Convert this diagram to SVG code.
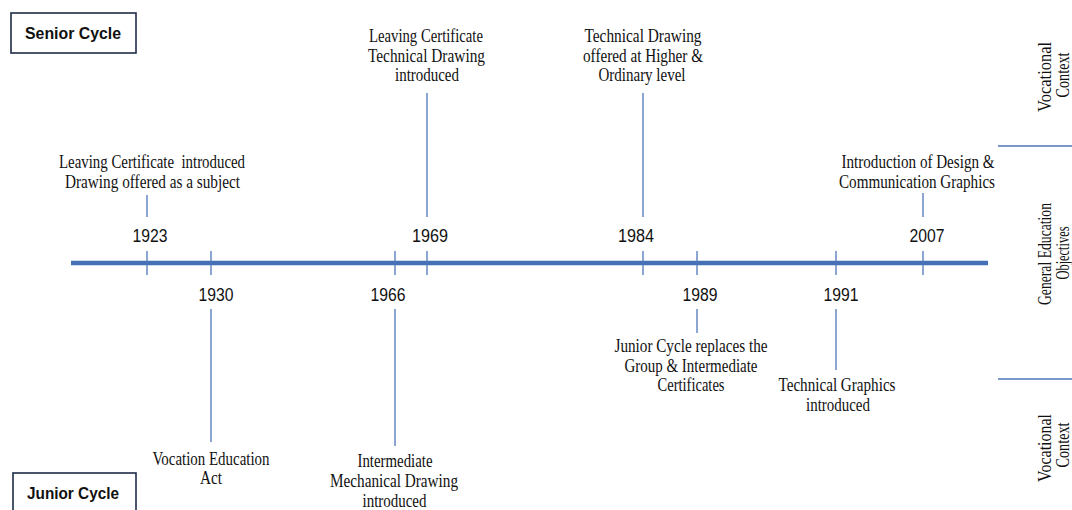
<svg xmlns="http://www.w3.org/2000/svg" width="1072" height="510" viewBox="0 0 1072 510">
<style>
.s{font-family:"Liberation Serif","Times New Roman",serif;font-size:18px;fill:#111;text-anchor:middle}
.y{font-family:"Liberation Sans",Arial,sans-serif;font-size:18px;fill:#111;text-anchor:middle}
.b{font-family:"Liberation Sans",Arial,sans-serif;font-size:16.5px;font-weight:bold;fill:#111;text-anchor:middle}
.c{stroke:#4f76b8;stroke-width:1.3;fill:none}
.box{fill:#fff;stroke:#1f2b47;stroke-width:1.6}
</style>
<rect width="1072" height="510" fill="#fff"/>
<g id="connectors">
<line x1="71" y1="263" x2="988" y2="263" stroke="#4670b5" stroke-width="4.5"/>
<g class="c">
<line x1="147" y1="251" x2="147" y2="275"/>
<line x1="211" y1="251" x2="211" y2="275"/>
<line x1="395" y1="251" x2="395" y2="275"/>
<line x1="427" y1="251" x2="427" y2="275"/>
<line x1="643" y1="251" x2="643" y2="275"/>
<line x1="697" y1="251" x2="697" y2="275"/>
<line x1="836" y1="251" x2="836" y2="275"/>
<line x1="923" y1="251" x2="923" y2="275"/>
<line x1="147" y1="195" x2="147" y2="217"/>
<line x1="427" y1="93" x2="427" y2="217"/>
<line x1="643" y1="93" x2="643" y2="217"/>
<line x1="923" y1="193" x2="923" y2="217"/>
<line x1="211" y1="309" x2="211" y2="442"/>
<line x1="395" y1="309" x2="395" y2="446"/>
<line x1="697" y1="309" x2="697" y2="333"/>
<line x1="836" y1="309" x2="836" y2="370"/>
<line x1="998" y1="146" x2="1072" y2="146"/>
<line x1="998" y1="379" x2="1072" y2="379"/>
</g>
</g>
<g id="senior-cycle">
<rect class="box" x="11" y="13" width="125" height="40"/>
<text class="b" x="73" y="39" textLength="96" lengthAdjust="spacingAndGlyphs">Senior Cycle</text>
</g>
<g id="junior-cycle">
<rect class="box" x="13" y="473" width="123" height="45"/>
<text class="b" x="73" y="499" textLength="92" lengthAdjust="spacingAndGlyphs">Junior Cycle</text>
</g>
<g id="e1923">
<text class="y" x="150" y="242" textLength="35" lengthAdjust="spacingAndGlyphs">1923</text>
<text class="s" x="152" y="168" textLength="186" lengthAdjust="spacingAndGlyphs" xml:space="preserve">Leaving Certificate  introduced</text>
<text class="s" x="152.5" y="188" textLength="175" lengthAdjust="spacingAndGlyphs">Drawing offered as a subject</text>
</g>
<g id="e1930">
<text class="y" x="216" y="301" textLength="35" lengthAdjust="spacingAndGlyphs">1930</text>
<text class="s" x="211" y="465" textLength="117" lengthAdjust="spacingAndGlyphs">Vocation Education</text>
<text class="s" x="211" y="484" textLength="22" lengthAdjust="spacingAndGlyphs">Act</text>
</g>
<g id="e1966">
<text class="y" x="388" y="301" textLength="35" lengthAdjust="spacingAndGlyphs">1966</text>
<text class="s" x="395" y="467" textLength="75" lengthAdjust="spacingAndGlyphs">Intermediate</text>
<text class="s" x="394" y="487" textLength="128" lengthAdjust="spacingAndGlyphs">Mechanical Drawing</text>
<text class="s" x="394.5" y="507" textLength="64" lengthAdjust="spacingAndGlyphs">introduced</text>
</g>
<g id="e1969">
<text class="y" x="430" y="242" textLength="36" lengthAdjust="spacingAndGlyphs">1969</text>
<text class="s" x="426" y="42" textLength="114" lengthAdjust="spacingAndGlyphs">Leaving Certificate</text>
<text class="s" x="426.5" y="62" textLength="117" lengthAdjust="spacingAndGlyphs">Technical Drawing</text>
<text class="s" x="427" y="81" textLength="64" lengthAdjust="spacingAndGlyphs">introduced</text>
</g>
<g id="e1984">
<text class="y" x="636" y="242" textLength="36" lengthAdjust="spacingAndGlyphs">1984</text>
<text class="s" x="643" y="42" textLength="117" lengthAdjust="spacingAndGlyphs">Technical Drawing</text>
<text class="s" x="643" y="62" textLength="120" lengthAdjust="spacingAndGlyphs">offered at Higher &amp;</text>
<text class="s" x="642" y="81" textLength="87" lengthAdjust="spacingAndGlyphs">Ordinary level</text>
</g>
<g id="e1989">
<text class="y" x="700" y="301" textLength="35" lengthAdjust="spacingAndGlyphs">1989</text>
<text class="s" x="691" y="352" textLength="153" lengthAdjust="spacingAndGlyphs">Junior Cycle replaces the</text>
<text class="s" x="691" y="372" textLength="133" lengthAdjust="spacingAndGlyphs">Group &amp; Intermediate</text>
<text class="s" x="691" y="391" textLength="67" lengthAdjust="spacingAndGlyphs">Certificates</text>
</g>
<g id="e1991">
<text class="y" x="841" y="301" textLength="35" lengthAdjust="spacingAndGlyphs">1991</text>
<text class="s" x="837" y="391" textLength="117" lengthAdjust="spacingAndGlyphs">Technical Graphics</text>
<text class="s" x="838" y="411" textLength="64" lengthAdjust="spacingAndGlyphs">introduced</text>
</g>
<g id="e2007">
<text class="y" x="927" y="242" textLength="35" lengthAdjust="spacingAndGlyphs">2007</text>
<text class="s" x="918" y="168" textLength="153" lengthAdjust="spacingAndGlyphs">Introduction of Design &amp;</text>
<text class="s" x="917" y="188" textLength="156" lengthAdjust="spacingAndGlyphs">Communication Graphics</text>
</g>
<g id="side-labels">
<text class="s" transform="translate(1051,77) rotate(-90)" textLength="70" lengthAdjust="spacingAndGlyphs">Vocational</text>
<text class="s" transform="translate(1069,75) rotate(-90)" textLength="45" lengthAdjust="spacingAndGlyphs">Context</text>
<text class="s" transform="translate(1051,254) rotate(-90)" textLength="102" lengthAdjust="spacingAndGlyphs">General Education</text>
<text class="s" transform="translate(1069,253) rotate(-90)" textLength="53" lengthAdjust="spacingAndGlyphs">Objectives</text>
<text class="s" transform="translate(1051,448) rotate(-90)" textLength="68" lengthAdjust="spacingAndGlyphs">Vocational</text>
<text class="s" transform="translate(1069,445) rotate(-90)" textLength="45" lengthAdjust="spacingAndGlyphs">Context</text>
</g>
</svg>
